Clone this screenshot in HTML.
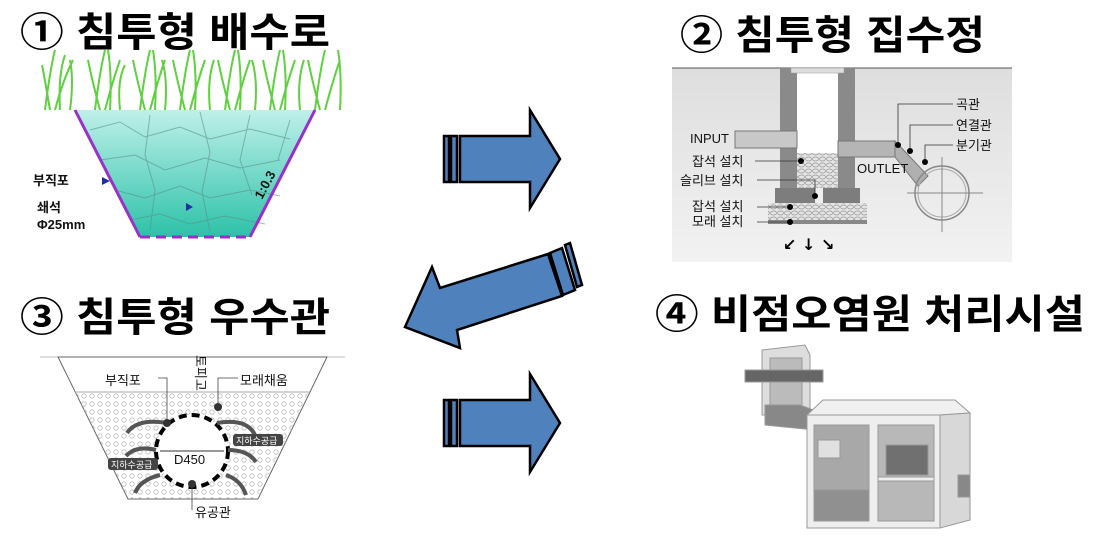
<!DOCTYPE html>
<html><head><meta charset="utf-8"><style>
body{margin:0;background:#fff;width:1095px;height:542px;overflow:hidden}
svg{display:block}
.t{font-family:"Liberation Sans","Noto Sans CJK KR",sans-serif;font-weight:bold;font-size:40px;fill:#000}
.s{font-family:"Liberation Sans","Noto Sans CJK KR",sans-serif;font-size:13px;fill:#111}
</style></head><body>
<svg width="1095" height="542" viewBox="0 0 1095 542" xmlns="http://www.w3.org/2000/svg">
<defs>
<linearGradient id="tq" x1="0" y1="0" x2="0" y2="1"><stop offset="0" stop-color="#bff0ea"/><stop offset="1" stop-color="#2cc2a8"/></linearGradient>
<linearGradient id="gb" x1="0" y1="0" x2="0" y2="1"><stop offset="0" stop-color="#dedede"/><stop offset="1" stop-color="#f2f2f2"/></linearGradient>
<pattern id="dots" width="8" height="8" patternUnits="userSpaceOnUse"><circle cx="4" cy="4" r="2.2" fill="none" stroke="#bbb" stroke-width="0.8"/></pattern>
<pattern id="grv" width="7" height="6" patternUnits="userSpaceOnUse"><rect width="7" height="6" fill="#e4e4e4"/><ellipse cx="3.5" cy="3" rx="3" ry="2" fill="none" stroke="#999" stroke-width="0.7"/></pattern>
</defs>

<!-- titles -->
<text class="t" x="20" y="46" textLength="310" lengthAdjust="spacingAndGlyphs">① 침투형 배수로</text>
<text class="t" x="680" y="49" textLength="305" lengthAdjust="spacingAndGlyphs">② 침투형 집수정</text>
<text class="t" x="20" y="331" textLength="310" lengthAdjust="spacingAndGlyphs">③ 침투형 우수관</text>
<text class="t" x="655" y="328" textLength="430" lengthAdjust="spacingAndGlyphs">④ 비점오염원 처리시설</text>

<!-- image 1 -->
<g>
<polygon points="75,110 315,110 250,237 140,237" fill="url(#tq)"/>
<g stroke="#5a8f86" stroke-width="1" fill="none" opacity="0.6">
<path d="M90,130 l30,-8 l25,15 l35,-10 l30,12 l40,-10 l40,10 M100,160 l35,-5 l30,15 l40,-12 l35,10 l40,-8 M115,190 l30,8 l35,-12 l30,12 l40,-8 l30,6 M130,220 l30,-6 l30,10 l35,-8 l40,8"/>
<path d="M150,115 l-5,40 l10,35 l-5,40 M200,112 l10,40 l-8,40 l8,40 M250,115 l-10,45 l12,35 M290,120 l-12,40"/>
</g>
<line x1="75" y1="110" x2="140" y2="237" stroke="#9b30c8" stroke-width="3"/>
<line x1="315" y1="110" x2="250" y2="237" stroke="#9b30c8" stroke-width="3"/>
<line x1="140" y1="237" x2="250" y2="237" stroke="#9b30c8" stroke-width="3" stroke-dasharray="10,6"/>
<g stroke="#5fd040" stroke-width="2" fill="none">
<path d="M45,110 q5,-40 10,-60 M50,110 q-5,-30 -8,-45 M55,110 q8,-30 18,-50 M60,110 q-2,-35 5,-55 M70,110 q4,-30 0,-50"/>
<path d="M95,110 q5,-40 10,-60 M100,110 q-8,-30 -12,-50 M105,110 q8,-30 15,-50 M110,110 q2,-35 -2,-60 M120,110 q-3,-30 5,-45"/>
<path d="M140,110 q5,-40 10,-60 M145,110 q-8,-30 -12,-50 M150,110 q8,-30 15,-50 M155,110 q2,-35 -2,-60 M165,110 q3,-30 -3,-50"/>
<path d="M180,110 q5,-40 10,-60 M185,110 q-8,-30 -12,-50 M190,110 q8,-30 15,-50 M195,110 q2,-35 -2,-60 M210,110 q-3,-30 4,-50"/>
<path d="M225,110 q5,-40 10,-60 M230,110 q-8,-30 -12,-50 M235,110 q8,-30 15,-50 M240,110 q2,-35 -2,-60 M255,110 q3,-30 -3,-50"/>
<path d="M270,110 q5,-40 10,-60 M275,110 q-8,-30 -12,-50 M280,110 q8,-30 15,-50 M285,110 q2,-35 -2,-60 M300,110 q-3,-30 4,-50"/>
<path d="M315,110 q5,-40 10,-60 M320,110 q-8,-30 -12,-50 M325,110 q8,-30 15,-50 M340,110 q2,-35 -2,-60"/>
</g>
<text class="s" x="33" y="185" font-size="15" font-weight="bold">부직포</text>
<polygon points="102,177 110,181 102,185" fill="#2030a0"/>
<text class="s" x="37" y="212" font-size="15" font-weight="bold">쇄석</text>
<text class="s" x="37" y="229" font-size="15" font-weight="bold">Φ25mm</text>
<polygon points="186,203 193,207 186,211" fill="#2030a0"/>
<text class="s" x="262" y="200" font-size="15" font-weight="bold" transform="rotate(-62 262 200)">1:0.3</text>
</g>

<!-- arrows -->
<g stroke="#000" stroke-width="2.5" fill="#4f81bd" stroke-linejoin="miter">
<polygon points="460,136 530,136 530,110 560,159 530,208 530,182 460,182"/>
<rect x="444" y="136" width="5" height="46"/>
<rect x="451" y="136" width="6" height="46"/>
<polygon points="460,400 530,400 530,374 560,423 530,472 530,446 460,446"/>
<rect x="444" y="400" width="5" height="46"/>
<rect x="451" y="400" width="6" height="46"/>
<polygon points="548,254 440,288 432,267 405,327 460,348 457,330 562,296"/>
<polygon points="550,253 562,248 575,290 563,295"/>
<polygon points="565,245 570,243 582,285 577,287"/>
</g>

<!-- image 2 -->
<g>
<rect x="672" y="68" width="340" height="194" fill="url(#gb)"/>
<line x1="672" y1="68" x2="1012" y2="68" stroke="#555" stroke-width="1"/>
<rect x="780" y="68" width="17" height="120" fill="#8a8a8a"/>
<rect x="838" y="68" width="17" height="120" fill="#8a8a8a"/>
<rect x="797" y="68" width="41" height="85" fill="#fff"/>
<rect x="797" y="153" width="41" height="35" fill="url(#grv)"/>
<rect x="791" y="68" width="53" height="5" fill="#ddd" stroke="#999" stroke-width="0.5"/>
<rect x="775" y="188" width="85" height="15" fill="#7d7d7d"/>
<rect x="815" y="188" width="8" height="15" fill="#eee"/>
<rect x="768" y="203" width="99" height="17" fill="url(#grv)"/>
<rect x="768" y="220" width="99" height="4" fill="#888"/>
<rect x="735" y="131" width="62" height="17" fill="#c8c8c8" stroke="#777" stroke-width="1"/>
<rect x="838" y="141" width="57" height="16" fill="#b5b5b5" stroke="#777" stroke-width="1"/>
<polygon points="895,141 928,176 918,186 895,157" fill="#b0b0b0" stroke="#777"/>
<circle cx="942" cy="193" r="27" fill="none" stroke="#888" stroke-width="1.5"/>
<circle cx="942" cy="193" r="24" fill="none" stroke="#aaa" stroke-width="1"/>
<line x1="907" y1="193" x2="983" y2="193" stroke="#888"/>
<line x1="942" y1="157" x2="942" y2="232" stroke="#888"/>
<g stroke="#333" stroke-width="0.8" fill="none">
<polyline points="755,161 801,161"/><polyline points="757,180 815,180 815,196"/>
<polyline points="757,207 790,207"/><polyline points="757,222 790,222"/>
<polyline points="898,145 898,104 953,104"/><polyline points="910,151 910,125 953,125"/><polyline points="925,162 925,145 953,145"/>
</g>
<g fill="#000"><circle cx="801" cy="161" r="3"/><circle cx="815" cy="196" r="3"/><circle cx="790" cy="207" r="3"/><circle cx="790" cy="222" r="3"/><circle cx="898" cy="145" r="3"/><circle cx="910" cy="151" r="3"/><circle cx="925" cy="162" r="3"/></g>
<text class="s" x="690" y="143">INPUT</text>
<text class="s" x="692" y="166">잡석 설치</text>
<text class="s" x="680" y="185">슬리브 설치</text>
<text class="s" x="692" y="211">잡석 설치</text>
<text class="s" x="692" y="226">모래 설치</text>
<text class="s" x="857" y="173">OUTLET</text>
<text class="s" x="956" y="109">곡관</text>
<text class="s" x="956" y="130">연결관</text>
<text class="s" x="956" y="150">분기관</text>
<text x="783" y="250" font-size="16" font-family="DejaVu Sans" font-weight="bold">↙ ↓ ↘</text>
</g>

<!-- image 3 -->
<g>
<line x1="40" y1="357" x2="345" y2="357" stroke="#bbb"/>
<polygon points="58,357 327,357 258,499 128,499" fill="#fff" stroke="#666" stroke-width="1"/>
<polygon points="75,392 310,392 258,499 128,499" fill="url(#dots)"/>
<line x1="75" y1="392" x2="310" y2="392" stroke="#aaa"/>
<circle cx="192" cy="451" r="36" fill="#fff"/>
<circle cx="192" cy="451" r="36" fill="none" stroke="#000" stroke-width="4" stroke-dasharray="8,5"/>
<line x1="160" y1="451" x2="224" y2="451" stroke="#333"/>
<text class="s" x="174" y="464" font-size="15">D450</text>
<g stroke="#555" stroke-width="4" fill="none">
<path d="M167,423 q-30,-5 -40,10"/><path d="M217,423 q30,-5 38,12"/><path d="M156,450 q-20,-5 -30,6"/><path d="M228,450 q20,0 28,12"/><path d="M160,475 q-20,5 -25,18"/><path d="M226,475 q15,5 20,20"/>
</g>
<rect x="233" y="434" width="50" height="12" rx="3" fill="#444"/><text x="236" y="444" font-size="9" fill="#fff" font-family="Noto Sans CJK KR,sans-serif">지하수공급</text>
<rect x="108" y="458" width="50" height="12" rx="3" fill="#444"/><text x="111" y="468" font-size="9" fill="#fff" font-family="Noto Sans CJK KR,sans-serif">지하수공급</text>
<g stroke="#444" stroke-width="0.8" fill="none"><polyline points="158,378 167,378 167,423"/><polyline points="238,378 218,378 218,405"/><polyline points="192,487 192,510"/></g>
<circle cx="167" cy="423" r="4" fill="#333"/><circle cx="218" cy="407" r="4" fill="#333"/><circle cx="192" cy="484" r="4" fill="#333"/>
<text class="s" x="105" y="385" font-size="16">부직포</text>
<text class="s" x="240" y="385" font-size="16">모래채움</text>
<text class="s" x="195" y="517" font-size="16">유공관</text>
<text class="s" x="196" y="355" font-size="15" transform="rotate(90 196 355)">토피고</text>
</g>

<!-- image 4 -->
<g stroke="#999" stroke-width="1">
<polygon points="762,350 805,345 810,355 810,415 762,415" fill="#ddd"/>
<rect x="770" y="358" width="32" height="50" fill="#bbb"/>
<rect x="745" y="370" width="78" height="12" fill="#666"/>
<polygon points="765,405 800,405 840,420 835,432 765,425" fill="#888"/>
<polygon points="807,415 823,400 955,400 970,413 940,415" fill="#f0f0f0"/>
<polygon points="940,415 970,413 970,520 940,528" fill="#d8d8d8"/>
<rect x="807" y="415" width="133" height="113" fill="#eee"/>
<rect x="814" y="425" width="55" height="96" fill="#a8a8a8"/>
<rect x="878" y="425" width="56" height="96" fill="#b8b8b8"/>
<rect x="814" y="490" width="55" height="31" fill="#909090"/>
<rect x="878" y="477" width="56" height="4" fill="#eee"/>
<rect x="886" y="445" width="42" height="30" fill="#707070"/>
<rect x="818" y="440" width="22" height="18" fill="#e0e0e0"/>
<rect x="958" y="475" width="12" height="22" fill="#888"/>
</g>
</svg>
</body></html>
